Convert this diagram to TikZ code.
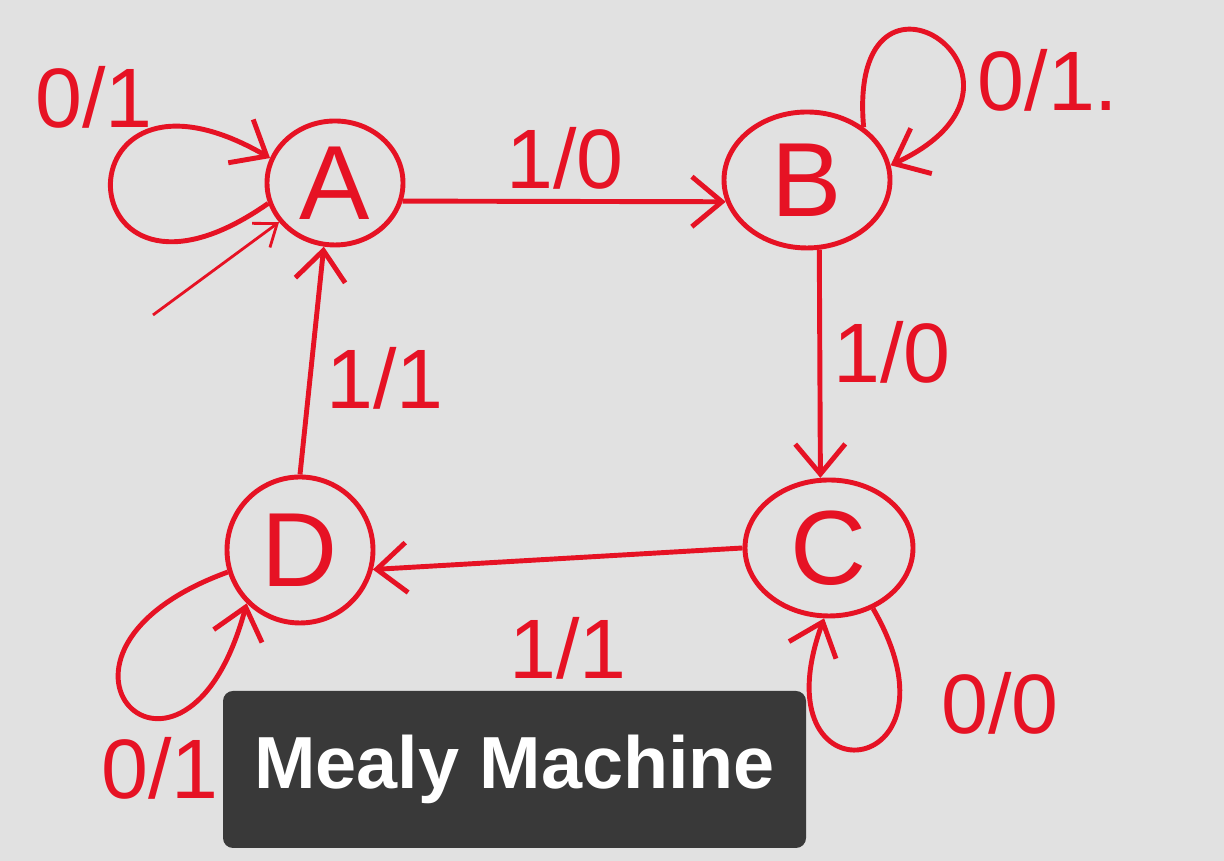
\documentclass[tikz,border=0pt]{standalone}
\usepackage{fontspec}
\setmainfont{Liberation Sans}
\usetikzlibrary{arrows.meta,shapes.geometric}
\definecolor{ink}{RGB}{230,18,36}
\definecolor{paper}{RGB}{225,225,225}
\definecolor{slate}{RGB}{57,57,57}
\tikzset{
  state/.style={draw=ink, line width=1.4pt, ellipse, inner sep=0pt, text=ink, font=\fontsize{30}{32}\selectfont},
  trans/.style={draw=ink, line width=1.4pt, -{Straight Barb[length=3mm,width=5mm]}},
  io/.style={text=ink, font=\fontsize{24}{26}\selectfont},
}
\begin{document}
\begin{tikzpicture}
  % Background
  \fill[paper] (0,0) rectangle (12.24,8.61);
  \useasboundingbox (0,0) rectangle (12.24,8.61);

  % States
  \node[state, minimum width=1.36cm, minimum height=1.24cm] (A) at (3.35, 6.78) {A};
  \node[state, minimum width=1.66cm, minimum height=1.36cm] (B) at (8.07, 6.81) {B};
  \node[state, minimum width=1.68cm, minimum height=1.36cm] (C) at (8.29, 3.13) {C};
  \node[state, minimum width=1.46cm, minimum height=1.46cm] (D) at (3.00, 3.11) {D};

  % Start arrow into A
  \coordinate (start) at (1.53, 5.46);
  \draw[ink, line width=0.8pt, -{Straight Barb[length=2mm,width=3mm]}] (start) -- (A.215);

  % Transitions
  \draw[trans] (A.345) -- (B.195);
  \draw[trans] (B.280) -- (C.97);
  \draw[trans] (C.west) -- (D.345);
  \draw[trans] (D.north) -- (A.260);

  % Self loops
  \draw[trans] (A.197) to[out=215, in=150, distance=2.5cm] (A.159);
  \draw[trans] (B.43) to[out=95, in=25, distance=2.0cm] (B.10);
  \draw[trans] (C.306) to[out=300, in=250, distance=2.0cm] (C.266);
  \draw[trans] (D.197) to[out=200, in=255, distance=2.4cm] (D.225);

  % Input/output labels
  \node[io] (lAA) at (0.94, 7.64) {0/1};
  \node[io] (lAB) at (5.65, 7.03) {1/0};
  \node[io] (lBB) at (10.48, 7.81) {0/1.};
  \node[io] (lBC) at (8.92, 5.09) {1/0};
  \node[io] (lCC) at (10.00, 1.58) {0/0};
  \node[io] (lCD) at (5.68, 2.13) {1/1};
  \node[io] (lDD) at (1.60, 0.93) {0/1};
  \node[io] (lDA) at (3.85, 4.83) {1/1};

  % Caption banner
  \node[fill=slate, rounded corners=0.1cm, minimum width=5.83cm, minimum height=1.57cm, text=white, font=\bfseries\fontsize{21}{24}\selectfont] (title) at (5.145, 0.915) {Mealy Machine};
\end{tikzpicture}
\end{document}
